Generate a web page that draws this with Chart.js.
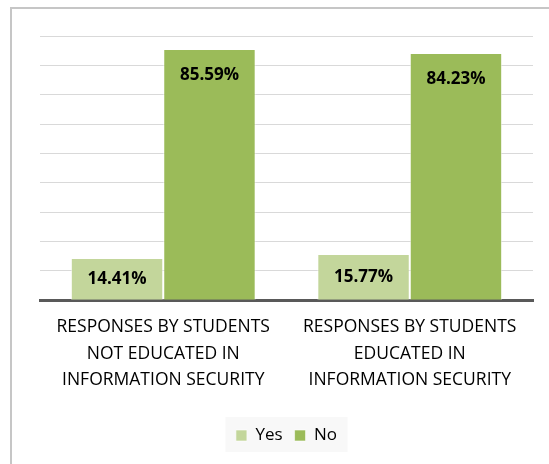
<!DOCTYPE html>
<html>
<head>
<meta charset="utf-8">
<script src="https://cdn.jsdelivr.net/npm/chart.js@4/dist/chart.umd.min.js"></script>
<style>
  html, body { margin: 0; padding: 0; background: #ffffff; overflow: hidden; }
  #frame {
    position: absolute; left: 10px; top: 7px; width: 600px; height: 520px;
    border: 2px solid #c6c6c6; box-sizing: border-box;
  }
  #wrap { position: absolute; left: 0; top: 0; width: 549px; height: 464px; }
</style>
</head>
<body>
<div id="frame"></div>
<div id="wrap"><canvas id="chart" width="549" height="464"></canvas></div>
<script>
// Categories (multi-line x labels)
const categories = [
  ['RESPONSES BY STUDENTS', 'NOT EDUCATED IN', 'INFORMATION SECURITY'],
  ['RESPONSES BY STUDENTS', 'EDUCATED IN', 'INFORMATION SECURITY']
];

// Series values (percent)
const yesValues = [14.41, 15.77];
const noValues = [85.59, 84.23];

// Value axis range (hidden ticks, gridlines every 10%)
const axisMin = 0;
const axisMax = 90;
const axisStep = 10;

const COLORS = {
  yes: '#c3d69b',
  no: '#9bbb59',
  grid: '#d9d9d9',
  axis: '#595959',
  text: '#000000'
};

const FONT = "'Open Sans', 'Liberation Sans', sans-serif";

/**
 * Value labels drawn inside the end of each bar
 */
const barLabelPlugin = {
  id: 'barLabels',
  afterDatasetsDraw(chart) {
    const ctx = chart.ctx;
    ctx.save();
    ctx.font = `bold 17px ${FONT}`;
    ctx.fillStyle = COLORS.text;
    ctx.textAlign = 'center';
    ctx.textBaseline = 'middle';
    chart.data.datasets.forEach((ds, i) => {
      const meta = chart.getDatasetMeta(i);
      meta.data.forEach((bar, j) => {
        const top = bar.y;
        const base = bar.base;
        const y = Math.min(top + 26, (top + base) / 2);
        ctx.fillText(ds.data[j].toFixed(2) + '%', bar.x, y);
      });
    });
    ctx.restore();
  }
};

/**
 * Light background behind the legend
 */
const legendBgPlugin = {
  id: 'legendBg',
  beforeDraw(chart) {
    const lg = chart.legend;
    if (!lg) return;
    const ctx = chart.ctx;
    ctx.save();
    ctx.fillStyle = '#f8f8f8';
    const w = 122;
    const cx = (lg.left + lg.right) / 2;
    ctx.fillRect(cx - w / 2, lg.top + 2, w, lg.height - 4);
    ctx.restore();
  }
};

new Chart(document.getElementById('chart').getContext('2d'), {
  type: 'bar',
  data: {
    labels: categories,
    datasets: [
      {
        label: 'Yes',
        data: yesValues,
        backgroundColor: COLORS.yes,
        borderColor: 'rgba(255,255,255,0.6)',
        borderWidth: 1,
        categoryPercentage: 0.75,
        barPercentage: 1.0
      },
      {
        label: 'No',
        data: noValues,
        backgroundColor: COLORS.no,
        borderColor: 'rgba(255,255,255,0.6)',
        borderWidth: 1,
        categoryPercentage: 0.75,
        barPercentage: 1.0
      }
    ]
  },
  options: {
    responsive: false,
    animation: false,
    devicePixelRatio: 1,
    layout: {
      padding: { left: 40, right: 16, top: 36, bottom: 10 }
    },
    plugins: {
      legend: {
        position: 'bottom',
        labels: {
          boxWidth: 11,
          boxHeight: 11,
          padding: 12,
          color: COLORS.text,
          font: { family: FONT, size: 17 }
        }
      },
      tooltip: { enabled: false }
    },
    scales: {
      x: {
        grid: { display: false, drawTicks: false },
        border: { color: COLORS.axis, width: 3 },
        afterFit(scale) {
          scale.height += 8;
        },
        ticks: {
          color: COLORS.text,
          padding: 14,
          maxRotation: 0,
          autoSkip: false,
          font: { family: FONT, size: 17.5, lineHeight: 1.5 }
        }
      },
      y: {
        min: axisMin,
        max: axisMax,
        ticks: { display: false, stepSize: axisStep },
        grid: { color: COLORS.grid, drawTicks: false },
        border: { display: false }
      }
    }
  },
  plugins: [barLabelPlugin, legendBgPlugin]
});
</script>
</body>
</html>
